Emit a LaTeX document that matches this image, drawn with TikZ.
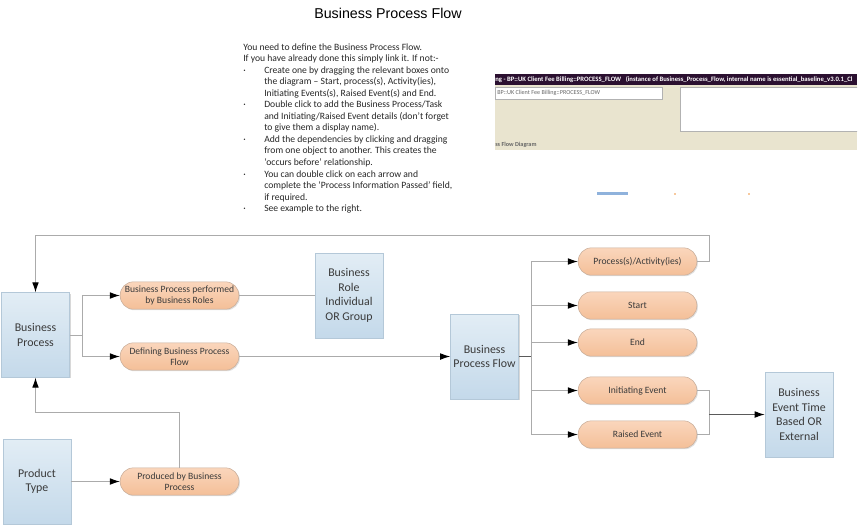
\documentclass[tikz,border=0pt]{standalone}
\usepackage{fontspec}
\setmainfont{Carlito}
\newfontfamily\titlefont{Liberation Sans}
\usetikzlibrary{shapes,arrows,positioning,calc,shadows,arrows.meta}
\definecolor{boxtop}{HTML}{E2EDF5}
\definecolor{boxbot}{HTML}{C4D9EA}
\definecolor{boxline}{HTML}{B4C8D8}
\definecolor{pilltop}{HTML}{FAD6BC}
\definecolor{pillbot}{HTML}{F4BF98}
\definecolor{pillline}{HTML}{C9AE9A}
\definecolor{connline}{HTML}{ABABAB}
\definecolor{connjoin}{HTML}{5A5A5A}
\definecolor{textgrey}{HTML}{3A3A3A}
\definecolor{barcol}{HTML}{2B1030}
\definecolor{beige}{HTML}{E9E4CF}
\definecolor{shotblue}{HTML}{8FB2DC}
\definecolor{shotorange}{HTML}{F7C99E}
\tikzset{
  classbox/.style={draw=boxline,top color=boxtop,bottom color=boxbot,minimum width=51pt,minimum height=63.5pt,
    inner sep=0pt,align=center,text=textgrey,font=\fontsize{8.9}{10.9}\selectfont,
    drop shadow={shadow xshift=0.8pt,shadow yshift=-0.8pt,fill=black!30}},
  relpill/.style={draw=pillline,rounded corners=10pt,top color=pilltop,bottom color=pillbot,minimum width=89pt,minimum height=20.5pt,
    inner sep=0pt,align=center,text=textgrey,font=\fontsize{7.2}{8.5}\selectfont,
    drop shadow={shadow xshift=0.8pt,shadow yshift=-0.8pt,fill=black!25}},
  conn/.style={draw=connline,line width=0.7pt},
  connarrow/.style={conn,-{Latex[black,length=7.5pt,width=5pt]}},
  noteline/.style={anchor=base west,inner sep=0pt,text=black!85,font=\fontsize{7.23}{9}\selectfont},
  shotlabel/.style={anchor=west,inner sep=0pt,text=black!60,font=\fontsize{4.6}{5}\selectfont}
}
\begin{document}
\begin{tikzpicture}[x=0.75pt,y=-0.75pt]
  \useasboundingbox (0,0) rectangle (860,529);
  \node[anchor=base,inner sep=0pt,font=\titlefont\fontsize{10.7}{13}\selectfont] (title) at (388,18) {Business Process Flow};

  % instructions
  \foreach \i/\tx/\ty in {0/243/{You need to define the Business Process Flow.},
      1/243/{If you have already done this simply link it.  If not:-},
      2/264/{Create one by dragging the relevant boxes onto},
      3/264/{the diagram -- Start, process(s), Activity(ies),},
      4/264/{Initiating Events(s), Raised Event(s) and End.},
      5/264/{Double click to add the Business Process/Task},
      6/264/{and Initiating/Raised Event details (don’t forget},
      7/264/{to give them a display name).},
      8/264/{Add the dependencies by clicking and dragging},
      9/264/{from one object to another.  This creates the},
      10/264/{‘occurs before’ relationship.},
      11/264/{You can double click on each arrow and},
      12/264/{complete the ‘Process Information Passed’ field,},
      13/264/{if required.},
      14/264/{See example to the right.}}{
    \node[noteline] (note\i) at (\tx,{50+11.55*\i}) {\ty};
  }
  \foreach \i in {2,5,8,11,14}{
    \node[noteline] (dot\i) at (243,{50+11.55*\i}) {·};
  }

  % screenshot
  \begin{scope}
    \clip (495,60) rectangle (857,200);
    \node[fill=beige,anchor=north west,minimum width=271.5pt,minimum height=56pt,inner sep=0pt] (shotbg) at (495,75) {};
    \node[fill=barcol,anchor=north west,minimum width=271.5pt,minimum height=8pt,inner sep=0pt] (shotbar) at (495,74) {};
    \node[shotlabel,text=white,font=\fontsize{5}{5}\selectfont\bfseries] (shottitle) at (495,79.5) {ng - BP::UK Client Fee Billing::PROCESS\_FLOW \ \ (instance of Business\_Process\_Flow, internal name is essential\_baseline\_v3.0.1\_Cl};
    \node[draw=black!30,fill=white,anchor=north west,minimum width=125pt,minimum height=9.5pt,inner sep=0pt] (shotname) at (495,86.5) {};
    \node[shotlabel] (shotnametext) at (497,93) {BP::UK Client Fee Billing::PROCESS\_FLOW};
    \node[draw=black!30,fill=white,anchor=north west,minimum width=140pt,minimum height=33pt,inner sep=0pt] (shotdesc) at (680,86.5) {};
    \node[shotlabel,font=\fontsize{4.6}{5}\selectfont\bfseries] (shotfoot) at (495,145) {ss Flow Diagram};
  \end{scope}
  \node[fill=shotblue,minimum width=23pt,minimum height=2pt,inner sep=0pt] (shotbluebar) at (612.5,193.5) {};
  \node[fill=shotorange,minimum width=2pt,minimum height=2pt,inner sep=0pt] (shotdota) at (675,194) {};
  \node[fill=shotorange,minimum width=2pt,minimum height=2pt,inner sep=0pt] (shotdotb) at (749,194) {};

  \node[classbox] (process) at (35.5,335) {Business\\Process};
  \node[classbox] (role) at (349,295.5) {Business\\Role\\Individual\\OR Group};
  \node[classbox] (product) at (37,481.5) {Product\\Type};
  \node[classbox] (flow) at (484.5,356.5) {Business\\Process Flow};
  \node[classbox] (event) at (799,414.5) {Business\\Event Time\\Based OR\\External};

  \node[relpill] (performed) at (179.5,295.5) {Business Process performed\\by Business Roles};
  \node[relpill] (defining) at (179.5,356.5) {Defining Business Process\\Flow};
  \node[relpill] (produced) at (179.5,481.5) {Produced by Business\\Process};
  \node[relpill] (activity) at (637.5,261.5) {Process(s)/Activity(ies)};
  \node[relpill] (start) at (637.5,305.5) {Start};
  \node[relpill] (end) at (637.5,342.5) {End};
  \node[relpill] (initiating) at (637.5,390.5) {Initiating Event};
  \node[relpill] (raised) at (637.5,434.5) {Raised Event};

  \coordinate (processfork) at (82,335);
  \coordinate (flowfork) at (531,356.5);
  \coordinate (eventfork) at (709,414.5);
  \coordinate (topright) at (709,235);
  \coordinate (upjoin) at (179.5,412);

  \draw[connarrow] (processfork) |- (performed.west);
  \draw[connarrow] (processfork) |- (defining.west);
  \draw[conn] (process.east) -- (processfork);
  \draw[conn] (performed.east) -- (role.west);
  \draw[connarrow] (defining.east) -- (flow.west);
  \draw[connarrow] (product.east |- produced) -- (produced.west);
  \draw[connarrow] (produced.north) -- (upjoin) -| (process.south);
  \draw[connarrow] (activity.east) -| (topright) -| (process.north);

  \foreach \n in {activity,start,end,initiating,raised}{
    \draw[connarrow] (flowfork) |- (\n.west);
  }
  \draw[conn,draw=connjoin] (flow.east) -- (flowfork);
  \draw[conn] (initiating.east) -| (eventfork);
  \draw[conn] (raised.east) -| (eventfork);
  \draw[connarrow,draw=connjoin] (eventfork) -- (event.west);
\end{tikzpicture}
\end{document}
